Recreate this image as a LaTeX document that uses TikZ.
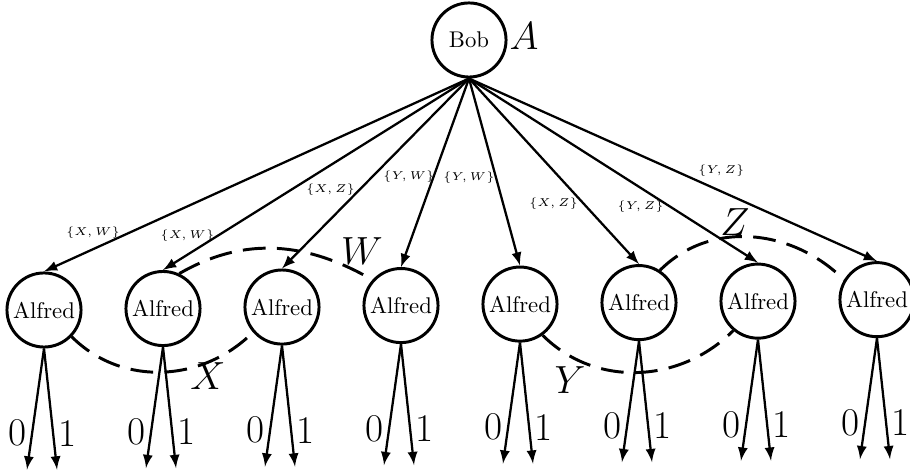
\documentclass[tikz,border=0pt]{standalone}
\usepackage{tikz}
\usetikzlibrary{positioning}
\usetikzlibrary{arrows,calc}

\begin{document}
\begin{tikzpicture}[
x=0.44pt, y=0.44pt,
agent/.style = {
  circle,
  draw,
  line width=1.3pt,
  minimum size=32.6pt,
  inner sep=0pt},
line/.style = {draw=black,line width=1pt, ->, >=latex},
pick/.style = {font=\tiny},
tag/.style = {font=\LARGE},
link/.style = {draw=black, line width=1.3pt, dash pattern=on 10pt off 5pt},
node distance = 52.36pt,
]
\useasboundingbox (0,0) rectangle (910,474);
\node[agent] (bob) at (469,434) {Bob};
\node[agent] (a1) at (44,164) {Alfred};
\node[agent, right of = a1, yshift=0.65pt] (a2) {Alfred};
\node[agent, right of = a2, yshift=0.65pt] (a3) {Alfred};
\node[agent, right of = a3, yshift=0.65pt] (a4) {Alfred};
\node[agent, right of = a4, yshift=0.65pt] (a5) {Alfred};
\node[agent, right of = a5, yshift=0.65pt] (a6) {Alfred};
\node[agent, right of = a6, yshift=0.65pt] (a7) {Alfred};
\node[agent, right of = a7, yshift=0.65pt] (a8) {Alfred};

\node[tag] (tA) at (524,438) {$A$};
\node[tag] (tW) at (362,223) {$W$};
\node[tag] (tX) at (208,98) {$X$};
\node[tag] (tY) at (570,94) {$Y$};
\node[tag] (tZ) at (735,252) {$Z$};

 \begin{scope}[every path/.style=line]
\path(bob.south) -- (a1.north) node[pick, pos=0.8, xshift=-15.8pt] {$\{X,W\}$};
\path(bob.south) -- (a2.north) node[pick, pos=0.82, xshift=-13.5pt] {$\{X,W\}$};
\path(bob.south) -- (a3.north) node[pick, pos=0.585, xshift=-12.8pt] {$\{X,Z\}$};
\path(bob.south) -- (a4.north) node[pick, pos=0.523, xshift=-10.8pt] {$\{Y,W\}$};
\path(bob.south) -- (a5.north) node[pick, pos=0.529, xshift=-11.9pt] {$\{Y,W\}$};
\path(bob.south) -- (a6.north) node[pick, pos=0.674, xshift=-13.2pt] {$\{X,Z\}$};
\path(bob.south) -- (a7.north) node[pick, pos=0.697, xshift=-13.1pt] {$\{Y,Z\}$};
\path(bob.south) -- (a8.north) node[pick, pos=0.505, xshift=20.4pt] {$\{Y,Z\}$};
\end{scope}

% answers 0 / 1
\foreach \i in {1,...,8} {
  \path (a\i.south) ++(-17,-121) coordinate (l\i);
  \path (a\i.south) ++(13,-121) coordinate (r\i);
  \draw[line] (a\i.south) -- (l\i) node[tag, pos=0.7, left, inner sep=2pt] {0};
  \draw[line] (a\i.south) -- (r\i) node[tag, pos=0.7, right, inner sep=2pt] {1};
}

\draw[link] (a1.-44) to[out=-45, in=-135] (a3.-139);
\draw[link] (a2.65) to[out=30, in=150] (a4.138);
\draw[link] (a5.-54) to[out=-45, in=-135] (a7.-130);
\draw[link] (a6.57) to[out=45, in=135] (a8.149);

\end{tikzpicture}
\end{document}
